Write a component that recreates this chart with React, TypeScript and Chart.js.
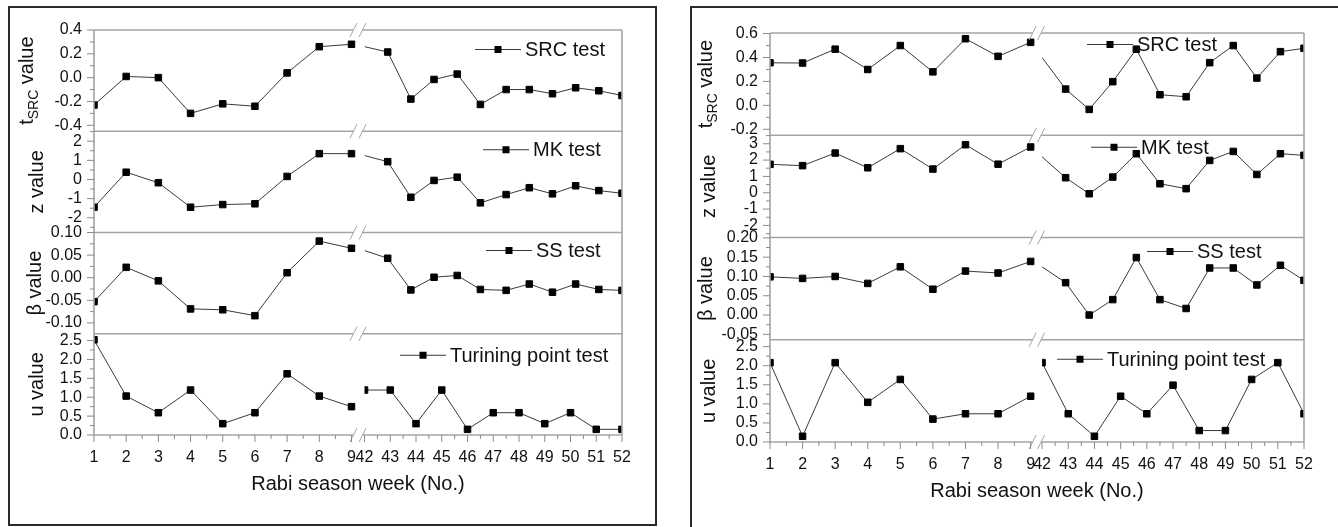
import React, { useEffect, useRef } from "react";
import { Chart, registerables } from "chart.js";

Chart.register(...registerables);

const FONT = '"Liberation Sans", Arial, Helvetica, sans-serif';

// ---------- categories / ticks ----------
const weeksEarly = [1, 2, 3, 4, 5, 6, 7, 8, 9];
const weeksLate = [42, 43, 44, 45, 46, 47, 48, 49, 50, 51, 52];
const weeksLateShifted = [42, 42.9, 43.8, 44.7, 45.6, 46.5, 47.5, 48.4, 49.3, 50.2, 51.1, 52];
const xTickWeeks = [...weeksEarly, ...weeksLate];

const xTitle = "Rabi season week (No.)";
const legendNames = ["SRC test", "MK test", "SS test", "Turining point test"];

const srcTicksA = [-0.4, -0.2, 0, 0.2, 0.4];
const mkTicksA = [-2, -1, 0, 1, 2];
const ssTicksA = [-0.1, -0.05, 0, 0.05, 0.1];
const uTicksA = [0, 0.5, 1, 1.5, 2, 2.5];
const srcTicksB = [-0.2, 0, 0.2, 0.4, 0.6];
const mkTicksB = [-2, -1, 0, 1, 2, 3];
const ssTicksB = [-0.05, 0, 0.05, 0.1, 0.15, 0.2];
const uTicksB = [0, 0.5, 1, 1.5, 2, 2.5];

// ---------- left panel values ----------
const srcEarlyA = [-0.23, 0.01, 0.0, -0.3, -0.22, -0.24, 0.04, 0.26, 0.28];
const srcLateA = [0.26, 0.215, -0.18, -0.015, 0.03, -0.225, -0.1, -0.1, -0.135, -0.085, -0.11, -0.15];
const mkEarlyA = [-1.45, 0.38, -0.17, -1.45, -1.31, -1.27, 0.16, 1.35, 1.35];
const mkLateA = [1.25, 0.93, -0.93, -0.05, 0.12, -1.22, -0.79, -0.43, -0.75, -0.33, -0.58, -0.72];
const ssEarlyA = [-0.053, 0.023, -0.007, -0.069, -0.071, -0.084, 0.011, 0.081, 0.065];
const ssLateA = [0.06, 0.043, -0.027, 0.001, 0.005, -0.026, -0.028, -0.014, -0.032, -0.014, -0.026, -0.028];
const uEarlyA = [2.52, 1.03, 0.59, 1.19, 0.3, 0.59, 1.62, 1.03, 0.75];
const uLateA = [1.19, 1.19, 0.3, 1.19, 0.15, 0.59, 0.59, 0.3, 0.59, 0.15, 0.15];

// ---------- right panel values ----------
const srcEarlyB = [0.356, 0.354, 0.47, 0.3, 0.5, 0.28, 0.557, 0.41, 0.527];
const srcLateB = [0.4, 0.136, -0.034, 0.198, 0.47, 0.089, 0.072, 0.357, 0.5, 0.228, 0.449, 0.477];
const mkEarlyB = [1.74, 1.66, 2.43, 1.53, 2.7, 1.45, 2.94, 1.75, 2.8];
const mkLateB = [2.2, 0.92, -0.06, 0.96, 2.39, 0.55, 0.25, 1.98, 2.53, 1.12, 2.39, 2.29];
const ssEarlyB = [0.099, 0.095, 0.1, 0.082, 0.125, 0.067, 0.114, 0.109, 0.139];
const ssLateB = [0.125, 0.084, 0.0, 0.04, 0.149, 0.04, 0.017, 0.122, 0.122, 0.078, 0.129, 0.09];
const uEarlyB = [2.08, 0.15, 2.08, 1.04, 1.64, 0.6, 0.74, 0.74, 1.2];
const uLateB = [2.08, 0.74, 0.15, 1.2, 0.74, 1.49, 0.3, 0.3, 1.64, 2.08, 0.74];

// ---------- styles ----------
const AXIS = "#a4a4a4";
const TICK = "#8a8a8a";
const LINE = "#3a3a3a";
const INK = "#111111";

type Sub = {
  key: string;
  legend: string;
  title: [string, string, string];
  titleX: number;
  early: number[];
  late: number[];
  lateWeeks: number[];
  hideFirstLate: boolean;
  ticks: number[];
  decimals: number;
  min: number;
  max: number;
  legendDx: number;
  legendDy: number;
};

type Panel = {
  left: number;
  width: number;
  padding: { left: number; right: number; top: number; bottom: number };
  gap: number;
  ratio: number;
  slash: [number, number];
  subs: Sub[];
};

const panelA: Panel = {
  left: 0,
  width: 670,
  padding: { left: 44, right: 48, top: 30, bottom: 62 },
  gap: 0.405,
  ratio: 0.8,
  slash: [2, 2],
  subs: [
    { key: "src", legend: legendNames[0], title: ["t", "SRC", " value"], titleX: 33, early: srcEarlyA, late: srcLateA, lateWeeks: weeksLateShifted, hideFirstLate: true, ticks: srcTicksA, decimals: 1, min: -0.45, max: 0.4, legendDx: 381, legendDy: 19.5 },
    { key: "mk", legend: legendNames[1], title: ["z value", "", ""], titleX: 43, early: mkEarlyA, late: mkLateA, lateWeeks: weeksLateShifted, hideFirstLate: true, ticks: mkTicksA, decimals: 0, min: -2.77, max: 2.52, legendDx: 389, legendDy: 18.5 },
    { key: "ss", legend: legendNames[2], title: ["\u03b2 value", "", ""], titleX: 41, early: ssEarlyA, late: ssLateA, lateWeeks: weeksLateShifted, hideFirstLate: true, ticks: ssTicksA, decimals: 2, min: -0.124, max: 0.1, legendDx: 392, legendDy: 18 },
    { key: "u", legend: legendNames[3], title: ["u value", "", ""], titleX: 43, early: uEarlyA, late: uLateA, lateWeeks: weeksLate, hideFirstLate: false, ticks: uTicksA, decimals: 1, min: 0, max: 2.68, legendDx: 306, legendDy: 21.5 },
  ],
};

const panelB: Panel = {
  left: 670,
  width: 668,
  padding: { left: 50, right: 34, top: 33, bottom: 55 },
  gap: 0.35,
  ratio: 0.804,
  slash: [2, 1],
  subs: [
    { key: "src", legend: legendNames[0], title: ["t", "SRC", " value"], titleX: 42, early: srcEarlyB, late: srcLateB, lateWeeks: weeksLateShifted, hideFirstLate: true, ticks: srcTicksB, decimals: 1, min: -0.25, max: 0.605, legendDx: 317, legendDy: 11.5 },
    { key: "mk", legend: legendNames[1], title: ["z value", "", ""], titleX: 45, early: mkEarlyB, late: mkLateB, lateWeeks: weeksLateShifted, hideFirstLate: true, ticks: mkTicksB, decimals: 0, min: -2.74, max: 3.52, legendDx: 321, legendDy: 12 },
    { key: "ss", legend: legendNames[2], title: ["\u03b2 value", "", ""], titleX: 42, early: ssEarlyB, late: ssLateB, lateWeeks: weeksLateShifted, hideFirstLate: true, ticks: ssTicksB, decimals: 2, min: -0.064, max: 0.201, legendDx: 377, legendDy: 14 },
    { key: "u", legend: legendNames[3], title: ["u value", "", ""], titleX: 45, early: uEarlyB, late: uLateB, lateWeeks: weeksLate, hideFirstLate: false, ticks: uTicksB, decimals: 1, min: 0, max: 2.68, legendDx: 287, legendDy: 19.5 },
  ],
};

function makeDecor(panel: Panel, toV: (w: number) => number) {
  return {
    id: "decor",
    afterDatasetsDraw(chart: any) {
      const ctx = chart.ctx as CanvasRenderingContext2D;
      const ca = chart.chartArea;
      const xs = chart.scales.x;
      const ys = panel.subs.map((s) => chart.scales["y_" + s.key]);
      const seg = (a: number, b: number, c: number, d: number) => {
        ctx.beginPath();
        ctx.moveTo(a, b);
        ctx.lineTo(c, d);
        ctx.stroke();
      };
      const x9 = xs.getPixelForValue(toV(9));
      const x42 = xs.getPixelForValue(toV(42));
      ctx.save();
      // break band
      ctx.fillStyle = "#ffffff";
      ctx.fillRect(x9 + 5, ca.top, x42 - x9 - 5, ca.bottom - ca.top);

      const s1 = x9 + panel.slash[0];
      const s2 = x42 - panel.slash[1];
      const hys = [ca.top, ...ys.slice(0, -1).map((s: any) => s.bottom), ca.bottom];

      ctx.strokeStyle = AXIS;
      ctx.lineWidth = 1.6;
      seg(ca.left, ca.top, ca.left, ca.bottom);
      seg(ca.right, ca.top, ca.right, ca.bottom);
      hys.forEach((y) => {
        seg(ca.left, y, s1, y);
        seg(s2, y, ca.right, y);
      });
      ctx.lineWidth = 1;
      hys.forEach((y) => {
        [s1, s2].forEach((sx) => seg(sx - 3.5, y + 7, sx + 3.5, y - 7));
      });

      // y ticks
      ctx.strokeStyle = TICK;
      ctx.lineWidth = 1;
      panel.subs.forEach((s, i) => {
        const sc = ys[i];
        const step = s.ticks[1] - s.ticks[0];
        s.ticks.forEach((v) => {
          const y = sc.getPixelForValue(v);
          seg(ca.left - 7, y, ca.left, y);
        });
        for (let k = -1; k < s.ticks.length; k++) {
          const m = k < 0 ? s.ticks[0] - step / 2 : s.ticks[k] + step / 2;
          if (m >= s.min - 1e-9 && m <= s.max + 1e-9) {
            const y = sc.getPixelForValue(m);
            seg(ca.left - 4, y, ca.left, y);
          }
        }
      });
      // x ticks
      xTickWeeks.forEach((w) => {
        const x = xs.getPixelForValue(toV(w));
        seg(x, ca.bottom, x, ca.bottom + 7);
      });
      [weeksEarly, weeksLate].forEach((grp) => {
        for (let k = 0; k < grp.length - 1; k++) {
          const x = xs.getPixelForValue(toV((grp[k] + grp[k + 1]) / 2));
          seg(x, ca.bottom, x, ca.bottom + 4);
        }
      });

      // y titles
      ctx.fillStyle = INK;
      panel.subs.forEach((s, i) => {
        const sc = ys[i];
        const yc = (sc.top + sc.bottom) / 2;
        const parts: [string, number, number][] = [
          [s.title[0], 20, 0],
          [s.title[1], 14, 5],
          [s.title[2], 20, 0],
        ].filter((p) => p[0]) as any;
        ctx.save();
        ctx.translate(s.titleX, yc);
        ctx.rotate(-Math.PI / 2);
        ctx.textBaseline = "alphabetic";
        ctx.textAlign = "left";
        let total = 0;
        const widths = parts.map((p) => {
          ctx.font = `${p[1]}px ${FONT}`;
          const w = ctx.measureText(p[0]).width;
          total += w;
          return w;
        });
        let px = -total / 2;
        parts.forEach((p, j) => {
          ctx.font = `${p[1]}px ${FONT}`;
          ctx.fillText(p[0], px, p[2]);
          px += widths[j];
        });
        ctx.restore();
      });

      // x title
      ctx.font = `20px ${FONT}`;
      ctx.textAlign = "center";
      ctx.textBaseline = "alphabetic";
      ctx.fillText(xTitle, (ca.left + ca.right) / 2, ca.bottom + 55);

      // legends
      panel.subs.forEach((s, i) => {
        const sc = ys[i];
        const lx = ca.left + s.legendDx;
        const ly = sc.top + s.legendDy;
        ctx.strokeStyle = LINE;
        ctx.lineWidth = 1;
        seg(lx, ly, lx + 46, ly);
        ctx.fillStyle = "#000";
        ctx.fillRect(lx + 23 - 3.5, ly - 3.5, 7, 7);
        ctx.font = `20px ${FONT}`;
        ctx.textAlign = "left";
        ctx.textBaseline = "middle";
        ctx.fillStyle = INK;
        ctx.fillText(s.legend, lx + 50, ly + 1);
      });
      ctx.restore();
    },
  };
}

function buildChart(canvas: HTMLCanvasElement, panel: Panel) {
  const toV = (w: number) => (w <= 9 ? w : 9 + panel.gap + (w - 42) * panel.ratio);
  const datasets: any[] = [];
  const scales: any = {
    x: {
      type: "linear",
      min: toV(1),
      max: toV(52),
      grid: { display: false, drawTicks: false },
      border: { display: false },
      ticks: {
        font: { family: FONT, size: 16 },
        color: INK,
        padding: 13,
        autoSkip: false,
        maxRotation: 0,
        minRotation: 0,
        callback: (_v: any, i: number) => String(xTickWeeks[i]),
      },
      afterBuildTicks: (s: any) => {
        s.ticks = xTickWeeks.map((w) => ({ value: toV(w) }));
      },
      afterFit: (s: any) => {
        s.height = 30;
      },
    },
  };
  // define y scales bottom-to-top (last defined is placed at top of the stack)
  [...panel.subs].reverse().forEach((s) => {
    scales["y_" + s.key] = {
      type: "linear",
      position: "left",
      stack: "panel",
      stackWeight: 1,
      offset: false,
      min: s.min,
      max: s.max,
      grid: { display: false, drawTicks: false },
      border: { display: false },
      ticks: {
        font: { family: FONT, size: 16 },
        color: INK,
        padding: 12,
        autoSkip: false,
        callback: (v: any) => Number(v).toFixed(s.decimals),
      },
      afterBuildTicks: (sc: any) => {
        sc.ticks = s.ticks.map((v) => ({ value: v }));
      },
      afterFit: (sc: any) => {
        sc.width = 50;
      },
    };
  });
  panel.subs.forEach((s) => {
    const common = {
      yAxisID: "y_" + s.key,
      borderColor: LINE,
      borderWidth: 1,
      pointStyle: "rect",
      pointBackgroundColor: "#000",
      pointBorderColor: "#000",
      pointBorderWidth: 1,
      tension: 0,
      fill: false,
    };
    datasets.push({
      ...common,
      label: s.legend,
      data: weeksEarly.map((w, i) => ({ x: toV(w), y: s.early[i] })),
      pointRadius: 4.6,
    });
    datasets.push({
      ...common,
      label: s.legend + " (late)",
      data: s.lateWeeks.map((w, i) => ({ x: toV(w), y: s.late[i] })),
      pointRadius: s.hideFirstLate ? (c: any) => (c.dataIndex === 0 ? 0 : 4.6) : 4.6,
    });
  });

  return new Chart(canvas, {
    type: "line",
    data: { datasets },
    options: {
      animation: false,
      responsive: false,
      maintainAspectRatio: false,
      devicePixelRatio: 1,
      events: [],
      layout: { padding: panel.padding },
      plugins: { legend: { display: false }, tooltip: { enabled: false }, title: { display: false } },
      scales,
    },
    plugins: [makeDecor(panel, toV)],
  } as any);
}

function PanelCanvas({ panel }: { panel: Panel }) {
  const ref = useRef<HTMLCanvasElement>(null);
  useEffect(() => {
    if (!ref.current) return;
    const chart = buildChart(ref.current, panel);
    return () => chart.destroy();
  }, [panel]);
  return (
    <canvas
      ref={ref}
      width={panel.width}
      height={527}
      style={{ position: "absolute", left: panel.left, top: 0, width: panel.width, height: 527 }}
    />
  );
}

export default function App() {
  return (
    <div
      style={{
        position: "absolute",
        left: 0,
        top: 0,
        width: 1338,
        height: 527,
        overflow: "hidden",
        background: "#ffffff",
      }}
    >
      <div
        style={{
          position: "absolute",
          left: 8,
          top: 6,
          width: 649,
          height: 520,
          border: "2px solid #2a2a2a",
          boxSizing: "border-box",
        }}
      />
      <div
        style={{
          position: "absolute",
          left: 690,
          top: 6,
          width: 720,
          height: 600,
          border: "2px solid #2a2a2a",
          boxSizing: "border-box",
        }}
      />
      <PanelCanvas panel={panelA} />
      <PanelCanvas panel={panelB} />
    </div>
  );
}
